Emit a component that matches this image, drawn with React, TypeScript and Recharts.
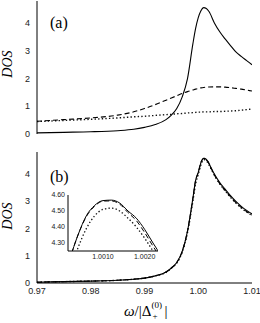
import React from 'react';
import { LineChart, Line, XAxis, YAxis } from 'recharts';

// ---------- data ----------
const omegaA = [0.97, 0.975, 0.98, 0.985, 0.988, 0.99, 0.992, 0.994, 0.995, 0.996, 0.997, 0.998, 0.999, 0.9995, 1.0, 1.0005, 1.001, 1.0015, 1.002, 1.003, 1.004, 1.005, 1.006, 1.007, 1.008, 1.009, 1.01];
const solidA = [0.04, 0.06, 0.08, 0.12, 0.17, 0.24, 0.34, 0.52, 0.68, 0.92, 1.33, 2.0, 3.25, 3.8, 4.2, 4.45, 4.56, 4.53, 4.42, 4.01, 3.69, 3.43, 3.19, 2.96, 2.8, 2.65, 2.5];
const dashedA = [0.46, 0.52, 0.58, 0.68, 0.8, 0.92, 1.06, 1.22, 1.3, 1.38, 1.46, 1.53, 1.59, 1.62, 1.645, 1.665, 1.68, 1.69, 1.695, 1.7, 1.7, 1.69, 1.67, 1.645, 1.62, 1.585, 1.55];
const dottedA = [0.45, 0.49, 0.53, 0.58, 0.62, 0.64, 0.67, 0.7, 0.71, 0.73, 0.74, 0.76, 0.77, 0.78, 0.79, 0.79, 0.8, 0.8, 0.8, 0.81, 0.81, 0.82, 0.83, 0.84, 0.86, 0.88, 0.9];

const omegaB = [0.97, 0.975, 0.98, 0.985, 0.988, 0.99, 0.992, 0.994, 0.995, 0.996, 0.997, 0.998, 0.999, 0.9995, 1.0, 1.0002, 1.0004, 1.0006, 1.0008, 1.001, 1.0012, 1.0014, 1.0016, 1.0018, 1.002, 1.0022, 1.0024, 1.003, 1.004, 1.005, 1.006, 1.007, 1.008, 1.009, 1.01];
const solidB = [0.03, 0.05, 0.07, 0.1, 0.14, 0.18, 0.26, 0.4, 0.55, 0.75, 1.15, 1.9, 3.1, 3.75, 4.05, 4.2, 4.35, 4.47, 4.535, 4.565, 4.568, 4.55, 4.5, 4.455, 4.385, 4.3, 4.22, 3.99, 3.68, 3.44, 3.2, 2.99, 2.81, 2.66, 2.53];
const dashedB = [0.03, 0.05, 0.07, 0.1, 0.14, 0.18, 0.26, 0.4, 0.55, 0.75, 1.15, 1.9, 3.1, 3.75, 4.05, 4.2, 4.35, 4.465, 4.53, 4.562, 4.563, 4.543, 4.49, 4.44, 4.365, 4.28, 4.2, 3.96, 3.64, 3.39, 3.16, 2.95, 2.77, 2.62, 2.49];
const dottedB = [0.03, 0.05, 0.07, 0.1, 0.14, 0.18, 0.26, 0.39, 0.54, 0.73, 1.12, 1.85, 3.0, 3.62, 3.98, 4.12, 4.27, 4.39, 4.47, 4.51, 4.518, 4.5, 4.455, 4.4, 4.33, 4.25, 4.17, 3.95, 3.63, 3.38, 3.14, 2.93, 2.75, 2.6, 2.47];

const xMajorTicks = [0.97, 0.98, 0.99, 1.0, 1.01];
const xMinorTicks = [0.9725, 0.975, 0.9775, 0.9825, 0.985, 0.9875, 0.9925, 0.995, 0.9975, 1.0025, 1.005, 1.0075];
const yMajorTicks = [0, 1, 2, 3, 4];
const yMinorTicks = [0.25, 0.5, 0.75, 1.25, 1.5, 1.75, 2.25, 2.5, 2.75, 3.25, 3.5, 3.75, 4.25, 4.5, 4.75];
const insetXTicks = [1.001, 1.002];
const insetYTicks = [4.3, 4.4, 4.5, 4.6];

const X_DOMAIN: [number, number] = [0.97, 1.01];
const Y_DOMAIN: [number, number] = [0, 4.8];
const INSET_X_DOMAIN: [number, number] = [1.00016, 1.00232];
const INSET_Y_DOMAIN: [number, number] = [4.25, 4.6];

const rowsA = omegaA.map((w, i) => ({ w, solid: solidA[i], dashed: dashedA[i], dotted: dottedA[i] }));
const rowsB = omegaB.map((w, i) => ({ w, solid: solidB[i], dashed: dashedB[i], dotted: dottedB[i] }));

const SANS = 'Liberation Sans, Arial, Helvetica, sans-serif';
const SERIF = 'Liberation Serif, Times New Roman, Times, serif';

function frameAxes(
  xDomain: [number, number],
  yDomain: [number, number],
  xMaj: number[],
  xMin: number[],
  yMaj: number[],
  yMin: number[],
  majLen: number,
  minLen: number
) {
  const c = { type: 'number' as const, allowDataOverflow: true, interval: 0 as const, tick: false, stroke: '#000' };
  return [
    <XAxis key="xb1" xAxisId="xb1" {...c} domain={xDomain} ticks={xMaj} orientation="bottom" mirror height={0} tickSize={majLen} axisLine={false} />,
    <XAxis key="xb2" xAxisId="xb2" {...c} domain={xDomain} ticks={xMin} orientation="bottom" mirror height={0} tickSize={minLen} axisLine={false} />,
    <XAxis key="xt1" xAxisId="xt1" {...c} domain={xDomain} ticks={xMaj} orientation="top" mirror height={0} tickSize={majLen} axisLine={{ stroke: '#000' }} />,
    <XAxis key="xt2" xAxisId="xt2" {...c} domain={xDomain} ticks={xMin} orientation="top" mirror height={0} tickSize={minLen} axisLine={false} />,
    <YAxis key="yl1" yAxisId="yl1" {...c} domain={yDomain} ticks={yMaj} orientation="left" mirror width={0} tickSize={majLen} axisLine={false} />,
    <YAxis key="yl2" yAxisId="yl2" {...c} domain={yDomain} ticks={yMin} orientation="left" mirror width={0} tickSize={minLen} axisLine={false} />,
    <YAxis key="yr1" yAxisId="yr1" {...c} domain={yDomain} ticks={yMaj} orientation="right" mirror width={0} tickSize={majLen} axisLine={{ stroke: '#000' }} />,
    <YAxis key="yr2" yAxisId="yr2" {...c} domain={yDomain} ticks={yMin} orientation="right" mirror width={0} tickSize={minLen} axisLine={false} />,
  ];
}

function series(width: number) {
  return [
    <Line key="dotted" xAxisId="x" yAxisId="y" type="monotone" dataKey="dotted" stroke="#111" strokeWidth={width + 0.3} strokeDasharray="1.4 2.2" dot={false} isAnimationActive={false} />,
    <Line key="dashed" xAxisId="x" yAxisId="y" type="monotone" dataKey="dashed" stroke="#000" strokeWidth={width} strokeDasharray="5 3" dot={false} isAnimationActive={false} />,
    <Line key="solid" xAxisId="x" yAxisId="y" type="monotone" dataKey="solid" stroke="#000" strokeWidth={width} dot={false} isAnimationActive={false} />,
  ];
}

const tickStyle = { fontSize: 9, fill: '#222', fontFamily: SANS };
const insetTickStyle = { fontSize: 7, fill: '#222', fontFamily: SANS };

function DosLabel({ cy }: { cy: number }) {
  return (
    <div
      style={{
        position: 'absolute',
        left: 8,
        top: cy,
        width: 40,
        transform: 'translate(-50%, -50%) rotate(-90deg)',
        textAlign: 'center',
        fontFamily: SERIF,
        fontStyle: 'italic',
        fontSize: 14,
        lineHeight: '14px',
        color: '#000',
      }}
    >
      DOS
    </div>
  );
}

function PanelTag({ text, cy }: { text: string; cy: number }) {
  return (
    <div
      style={{
        position: 'absolute',
        left: 50,
        top: cy,
        transform: 'translateY(-50%)',
        fontFamily: SERIF,
        fontSize: 16,
        lineHeight: '17px',
        color: '#000',
      }}
    >
      {text}
    </div>
  );
}

export default function App() {
  return (
    <div style={{ position: 'absolute', left: 0, top: 0, width: 260, height: 323, background: '#fff', overflow: 'hidden' }}>
      {/* panel (a) */}
      <div style={{ position: 'absolute', left: 0, top: 0 }}>
        <LineChart width={260} height={142} data={rowsA} margin={{ top: 1, right: 8, bottom: 8, left: 0 }}>
          <XAxis xAxisId="x" dataKey="w" type="number" domain={X_DOMAIN} allowDataOverflow ticks={xMajorTicks} tick={false} tickLine={false} height={0} axisLine={{ stroke: '#000' }} />
          <YAxis yAxisId="y" type="number" domain={Y_DOMAIN} allowDataOverflow ticks={yMajorTicks} interval={0} width={37} tickLine={false} tickSize={0} tickMargin={7} tick={tickStyle} axisLine={{ stroke: '#000' }} />
          {frameAxes(X_DOMAIN, Y_DOMAIN, xMajorTicks, xMinorTicks, yMajorTicks, yMinorTicks, 3, 2)}
          {series(1.1)}
        </LineChart>
      </div>

      {/* panel (b) */}
      <div style={{ position: 'absolute', left: 0, top: 146 }}>
        <LineChart width={260} height={152} data={rowsB} margin={{ top: 6, right: 8, bottom: 0, left: 0 }}>
          <XAxis xAxisId="x" dataKey="w" type="number" domain={X_DOMAIN} allowDataOverflow ticks={xMajorTicks} interval={0} tickFormatter={(v: number) => v.toFixed(2)} tick={tickStyle} tickLine={false} tickSize={0} tickMargin={5} height={15} axisLine={{ stroke: '#000' }} />
          <YAxis yAxisId="y" type="number" domain={Y_DOMAIN} allowDataOverflow ticks={yMajorTicks} interval={0} width={37} tickLine={false} tickSize={0} tickMargin={7} tick={tickStyle} axisLine={{ stroke: '#000' }} />
          {frameAxes(X_DOMAIN, Y_DOMAIN, xMajorTicks, xMinorTicks, yMajorTicks, yMinorTicks, 3, 2)}
          {series(1.1)}
        </LineChart>
      </div>

      {/* inset */}
      <div style={{ position: 'absolute', left: 40, top: 189 }}>
        <LineChart width={120} height={74} data={rowsB} margin={{ top: 6, right: 2, bottom: 0, left: 0 }}>
          <XAxis xAxisId="x" dataKey="w" type="number" domain={INSET_X_DOMAIN} allowDataOverflow ticks={insetXTicks} interval={0} tickFormatter={(v: number) => v.toFixed(4)} tick={insetTickStyle} tickLine={false} tickSize={0} tickMargin={3} height={12} axisLine={{ stroke: '#000' }} />
          <YAxis yAxisId="y" type="number" domain={INSET_Y_DOMAIN} allowDataOverflow ticks={insetYTicks} interval={0} tickFormatter={(v: number) => v.toFixed(2)} width={28} tickLine={false} tickSize={0} tickMargin={3} tick={insetTickStyle} axisLine={{ stroke: '#000' }} />
          {frameAxes(INSET_X_DOMAIN, INSET_Y_DOMAIN, insetXTicks, [], insetYTicks, [], 2, 1)}
          {series(1)}
        </LineChart>
      </div>

      <DosLabel cy={64} />
      <DosLabel cy={216} />
      <PanelTag text="(a)" cy={22} />
      <PanelTag text="(b)" cy={176} />

      {/* x-axis title */}
      <div
        style={{
          position: 'absolute',
          left: 124,
          top: 301,
          height: 20,
          fontFamily: SERIF,
          fontSize: 15,
          lineHeight: '20px',
          color: '#000',
          whiteSpace: 'nowrap',
        }}
      >
        <span style={{ fontStyle: 'italic' }}>ω</span>/|Δ
        <span style={{ display: 'inline-block', position: 'relative', width: 13, height: 20, verticalAlign: 'top', fontSize: 9, lineHeight: '9px' }}>
          <span style={{ position: 'absolute', left: 0, top: 0 }}>(0)</span>
          <span style={{ position: 'absolute', left: 1, top: 11 }}>+</span>
        </span>
        |
      </div>
    </div>
  );
}
